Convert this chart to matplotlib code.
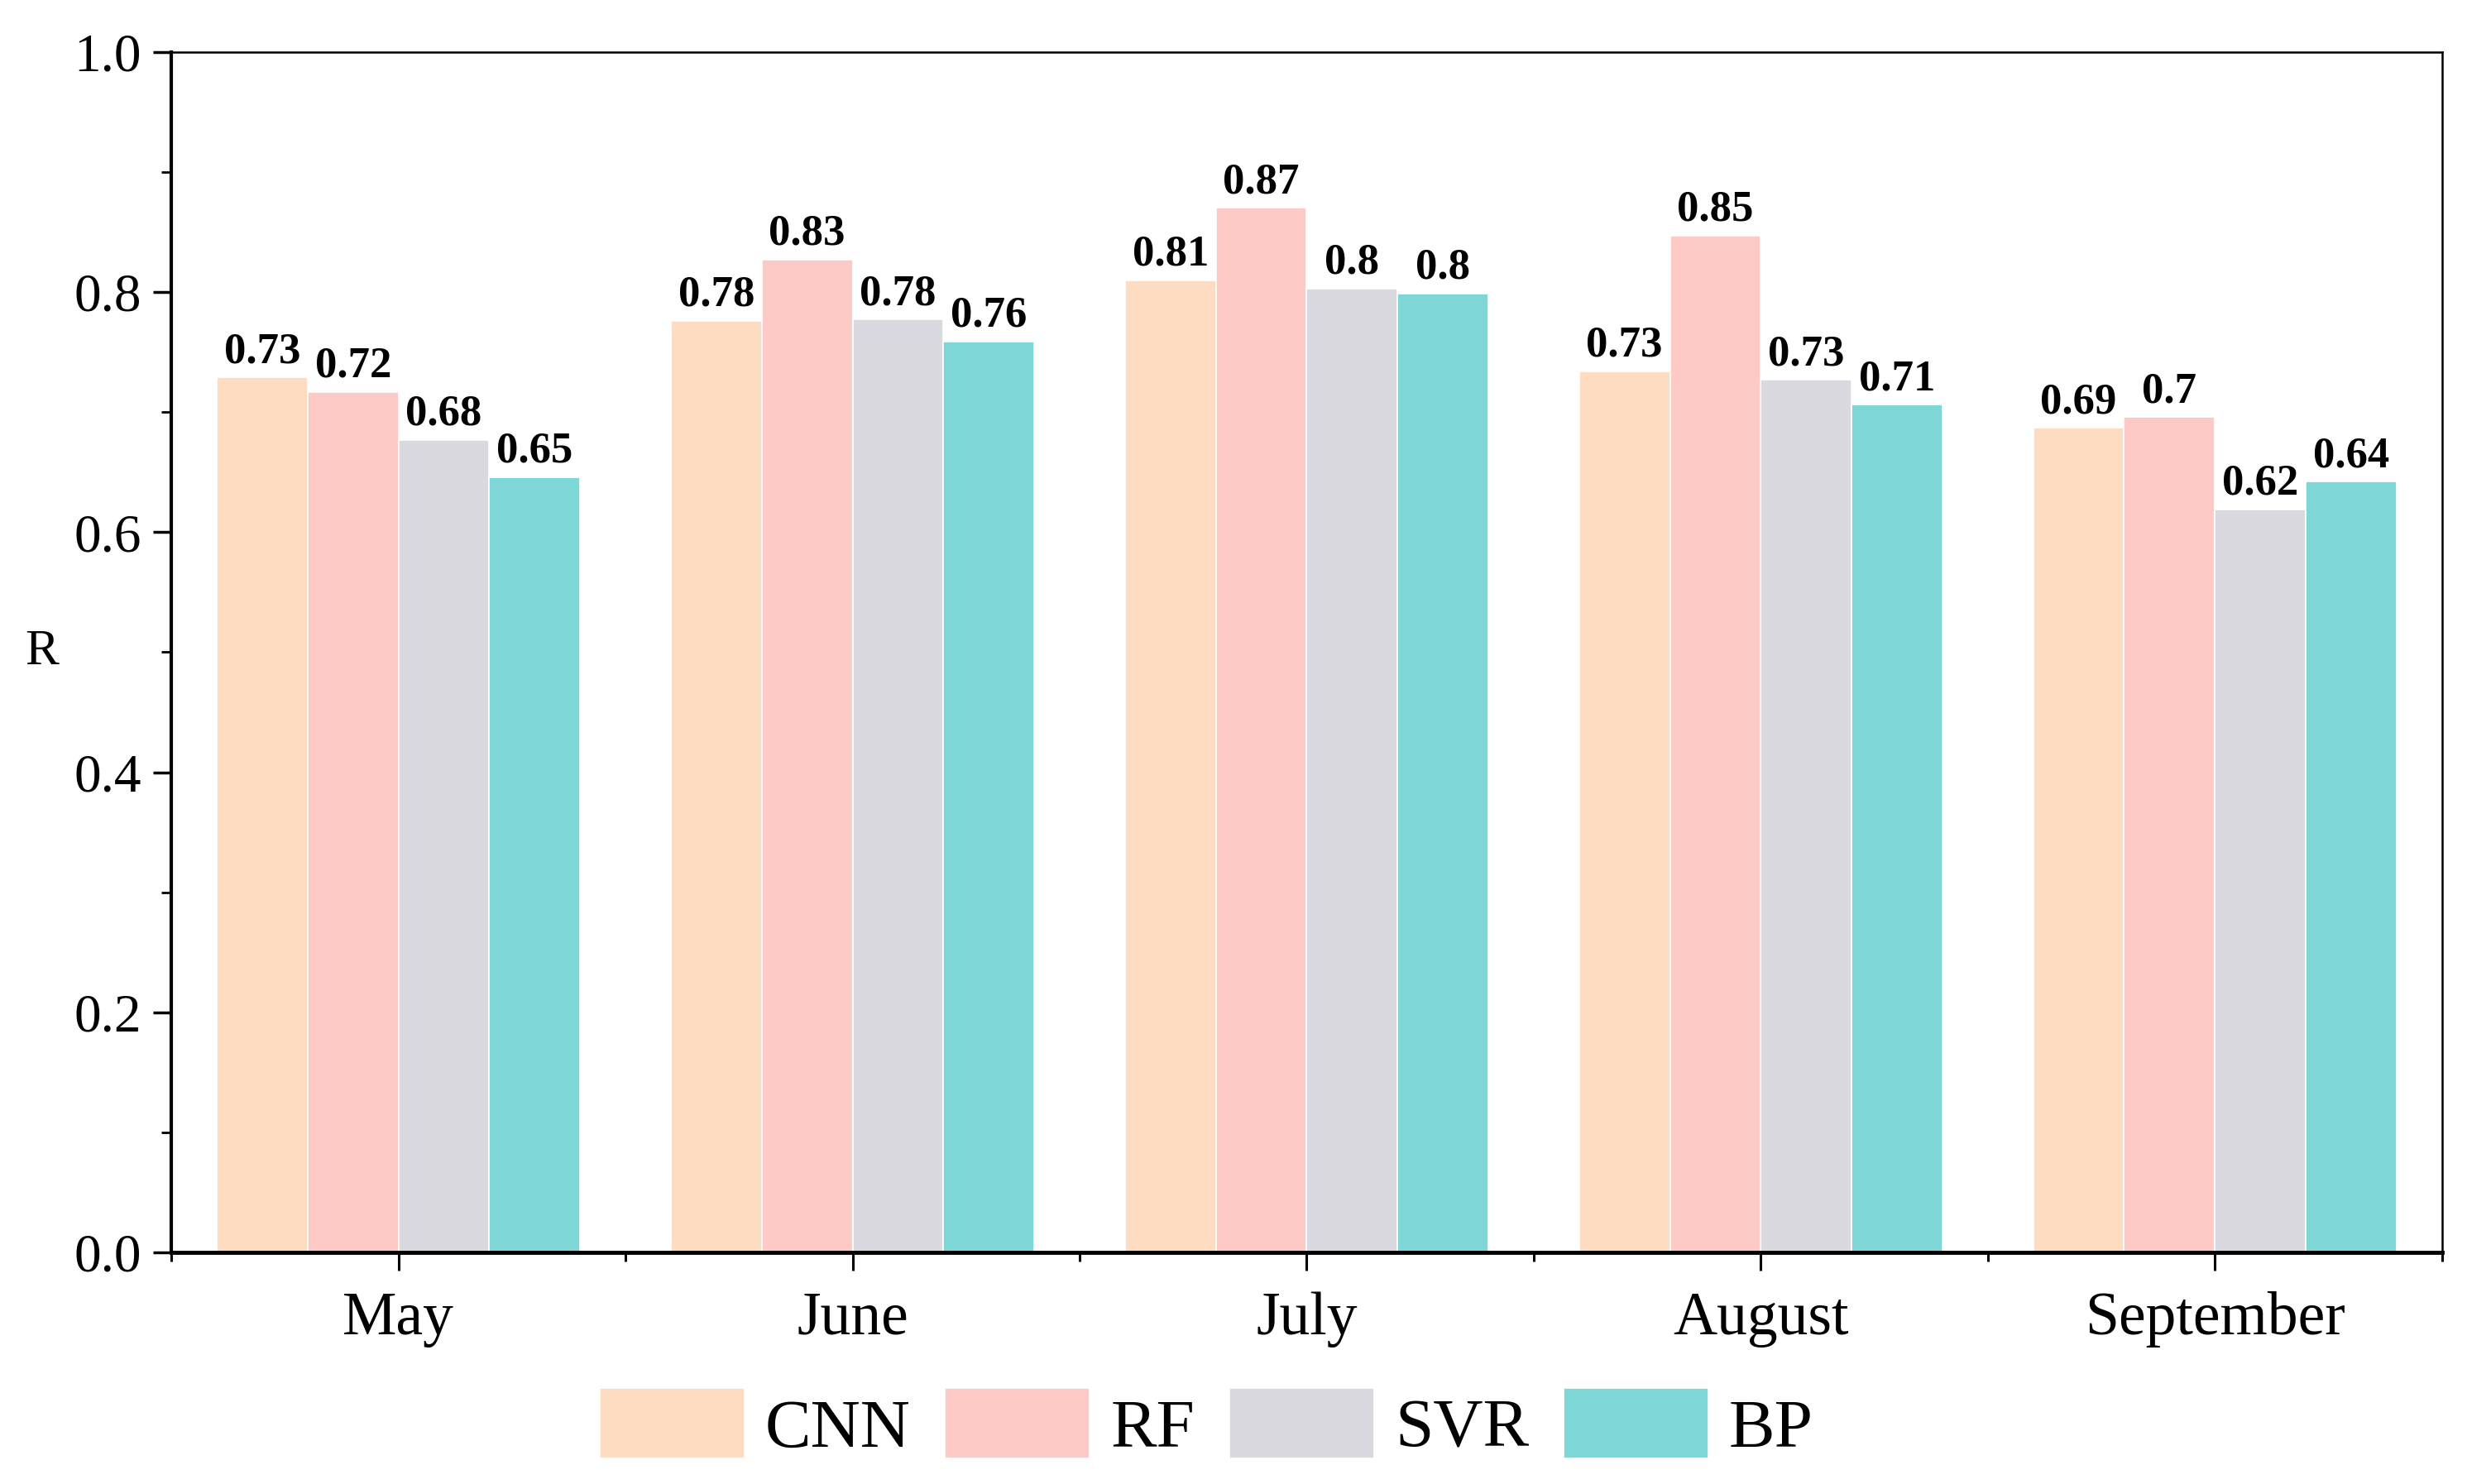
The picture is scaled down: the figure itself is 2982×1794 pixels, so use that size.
import matplotlib
matplotlib.use("Agg")
import matplotlib.pyplot as plt
from matplotlib.ticker import MultipleLocator, FixedLocator
import numpy as np

months = ["May", "June", "July", "August", "September"]
models = ["CNN", "RF", "SVR", "BP"]
cnn = [0.729, 0.776, 0.810, 0.734, 0.687]
rf = [0.717, 0.827, 0.870, 0.847, 0.696]
svr = [0.677, 0.777, 0.803, 0.727, 0.619]
bp = [0.646, 0.759, 0.799, 0.706, 0.642]
series = [cnn, rf, svr, bp]
colors = ["#FEDCC1", "#FECAC5", "#DAD9DF", "#7ED6D7"]

plt.rcParams['font.family'] = ['Liberation Serif', 'DejaVu Serif']

fig = plt.figure(figsize=(29.82, 17.94), dpi=100)
ax = fig.add_axes([0.0695, 0.156, 0.9203, 0.809])

x = np.arange(len(months))
w = 0.2
for i, (vals, c, name) in enumerate(zip(series, colors, models)):
    pos = x + (i - 1.5) * w
    ax.bar(pos, vals, width=w, color=c, edgecolor='white', linewidth=1.2, label=name)
    for xp, v in zip(pos, vals):
        lab = f"{v:.2f}".rstrip('0').rstrip('.')
        ax.annotate(lab, (xp, v), xytext=(0, 5), textcoords='offset points',
                    ha='center', va='bottom', fontsize=38, fontweight='bold')

ax.set_xlim(-0.5, 4.5)
ax.set_ylim(0, 1.0)
ax.set_xticks(x)
ax.set_xticklabels(months, fontsize=53)
ax.xaxis.set_minor_locator(FixedLocator([-0.5, 0.5, 1.5, 2.5, 3.5, 4.5]))
ax.set_yticks(np.arange(0, 1.01, 0.2))
ax.set_yticklabels([f"{t:.1f}" for t in np.arange(0, 1.01, 0.2)])
ax.yaxis.set_minor_locator(MultipleLocator(0.1))

ax.tick_params(axis='y', which='major', direction='out', length=16, width=2.5, pad=10, labelsize=47)
ax.tick_params(axis='y', which='minor', direction='out', length=9, width=2.0)
ax.tick_params(axis='x', which='major', direction='out', length=16, width=2.2, pad=18, labelsize=53)
ax.tick_params(axis='x', which='minor', direction='out', length=8, width=2.2)

ax.spines['left'].set_linewidth(3.0)
ax.spines['bottom'].set_linewidth(3.5)
ax.spines['top'].set_linewidth(1.8)
ax.spines['right'].set_linewidth(1.8)

ax.set_ylabel("R", rotation=0, fontsize=44, va='center', ha='center')
ax.yaxis.set_label_coords(-0.057, 0.5)

fig.legend(loc='center', bbox_to_anchor=(0.489, 0.040), ncol=4, frameon=False,
           fontsize=60, handlelength=2.1, handleheight=1.2, handletextpad=0.3,
           columnspacing=0.5, borderaxespad=0)

fig.savefig("out.png", dpi=100, facecolor='white')
